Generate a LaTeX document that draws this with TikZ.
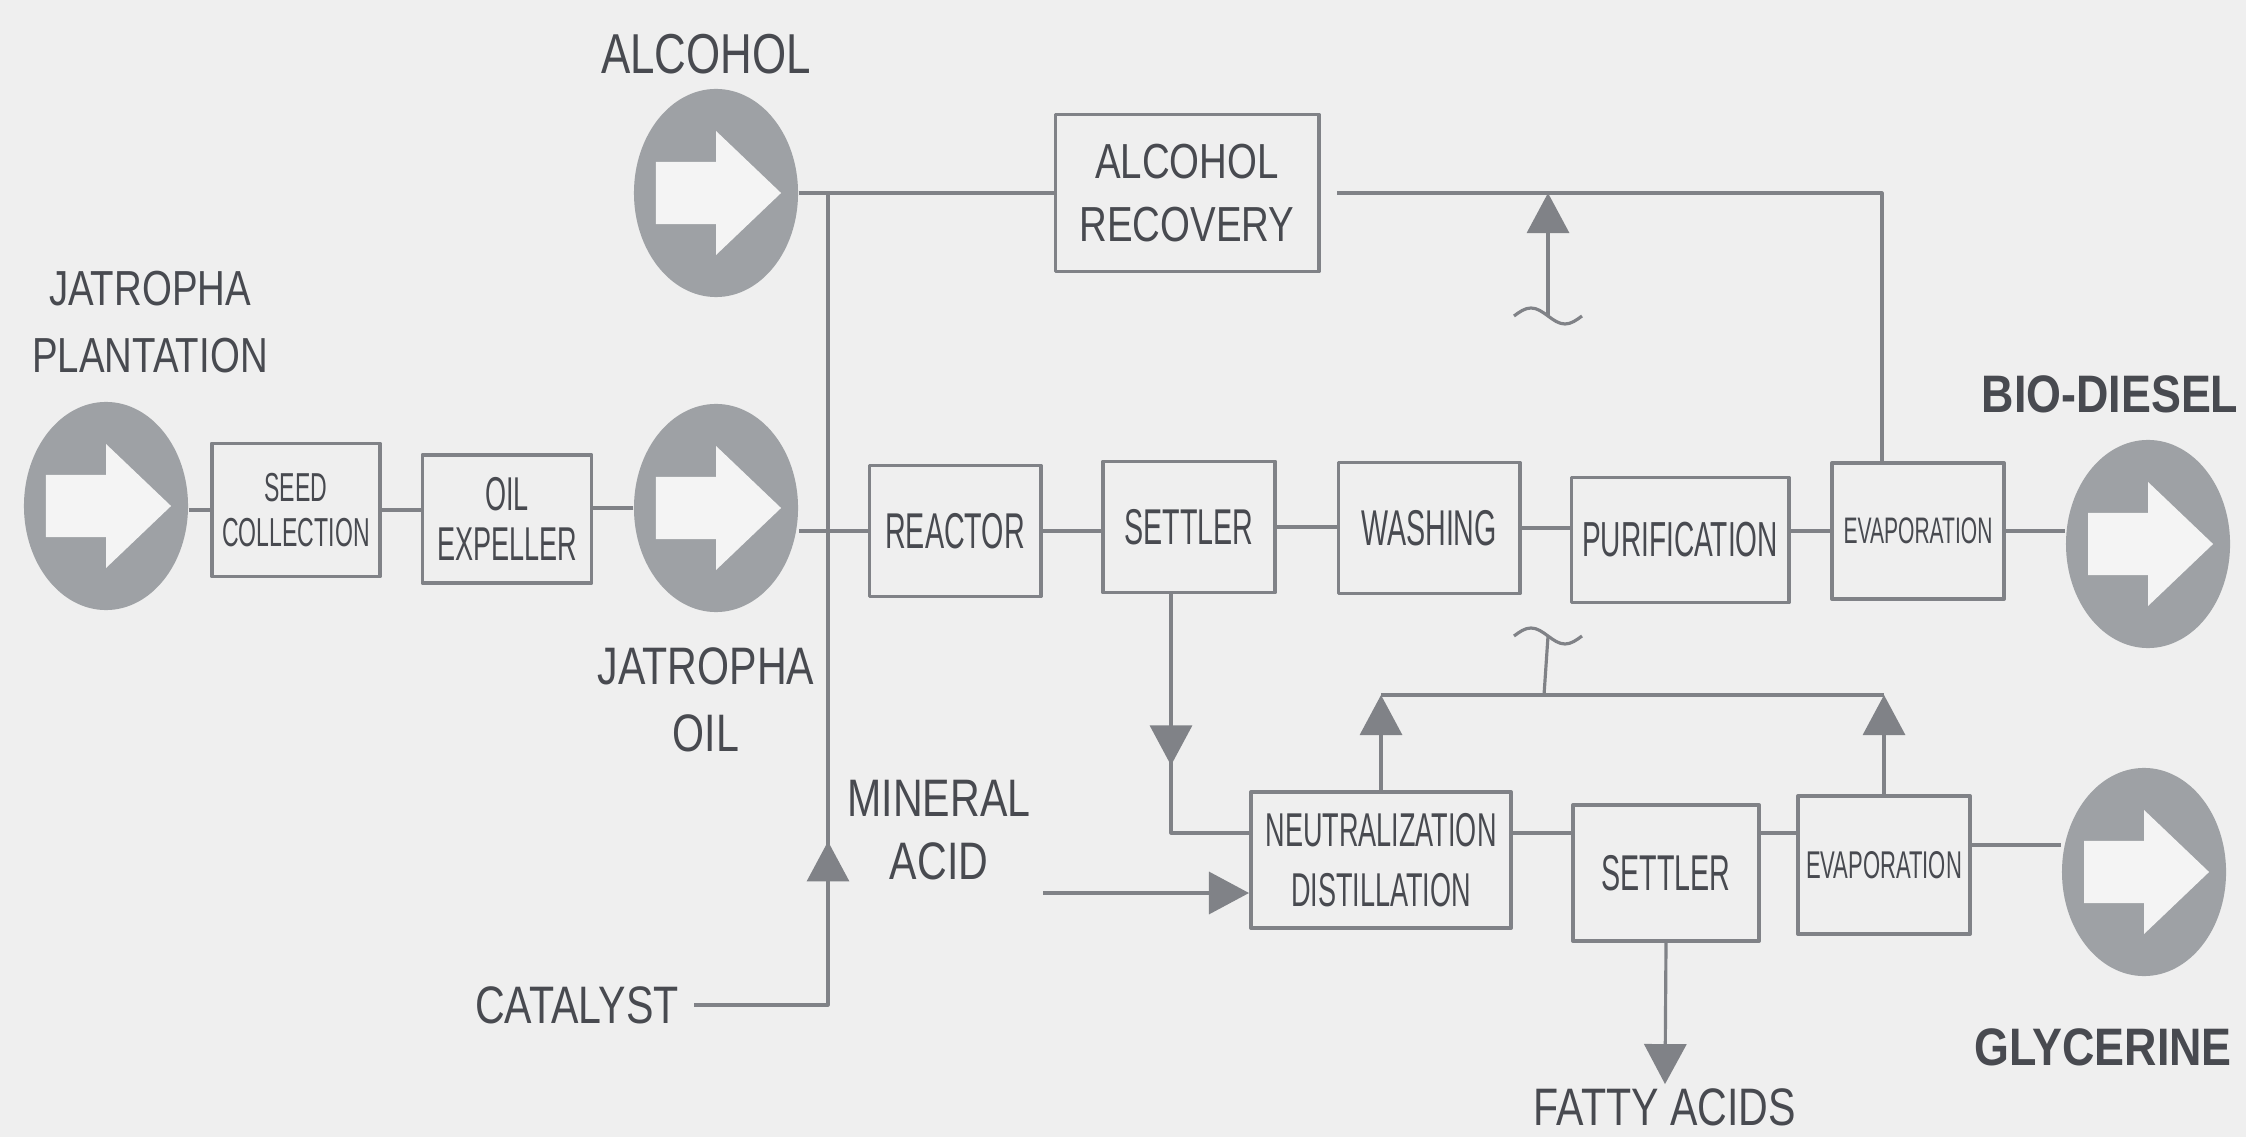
\documentclass[tikz,border=0pt]{standalone}
\usepackage{fontspec}
\setmainfont{Liberation Sans}
\newfontfamily\lblfont[FakeStretch=0.78]{Liberation Sans}
\newfontfamily\boxfont[FakeStretch=0.57]{Liberation Sans}
\newfontfamily\outfont[FakeStretch=0.85]{Liberation Sans}
\usetikzlibrary{arrows.meta,shapes.geometric,decorations.markings}

\definecolor{paper}{RGB}{239,239,239}
\definecolor{inkgray}{RGB}{72,74,80}
\definecolor{linegray}{RGB}{128,130,135}
\definecolor{circgray}{RGB}{158,161,165}
\definecolor{arrowwhite}{RGB}{244,244,244}

\tikzset{flow/.tip={Triangle[length=0.40cm,width=0.42cm]}}

\begin{document}
\begin{tikzpicture}[
        x=0.01cm, y=-0.01cm,
        line join=round,
        % 流程框
        procbox/.style={draw=linegray, line width=1.1pt, inner sep=0pt, align=center,
            text=inkgray, font=\boxfont\fontsize{14.3}{17}\selectfont,
            minimum width=1.72cm, minimum height=1.31cm},
        % 灰色圆形进出口（内含白色箭头）
        inlet/.style={ellipse, fill=circgray, inner sep=0pt,
            minimum width=1.64cm, minimum height=2.08cm,
            path picture={
                \fill[arrowwhite] ([shift={(-0.6cm,0.31cm)}]path picture bounding box.center)
                    -- ++(0.6cm,0) -- ++(0,0.31cm) -- ++(0.65cm,-0.62cm)
                    -- ++(-0.65cm,-0.62cm) -- ++(0,0.31cm) -- ++(-0.6cm,0) -- cycle;
            }},
        lbl/.style={text=inkgray, align=center, inner sep=2pt,
            font=\lblfont\fontsize{15}{19}\selectfont},
        outlbl/.style={text=inkgray, inner sep=2pt,
            font=\outfont\bfseries\fontsize{15}{18}\selectfont},
        flowline/.style={draw=linegray, line width=0.9pt},
        midflow/.style={postaction={decorate},
            decoration={markings, mark=at position #1 with {\arrow{flow}}}},
    ]

    % ---- 底色 ----
    \fill[paper] (0,0) rectangle (2246,1137);
    \useasboundingbox (0,0) rectangle (2246,1137);

    % ---- 上排：种植 -> 油 ----
    \node[inlet] (plant) at (106,506) {};
    \node[procbox, minimum width=1.68cm, minimum height=1.33cm,
        font=\boxfont\fontsize{11.5}{13}\selectfont] (seed) at (296,510) {SEED\\COLLECTION};
    \node[procbox, minimum width=1.69cm, minimum height=1.28cm,
        font=\boxfont\fontsize{13.5}{14}\selectfont] (expel) at (507,519) {OIL\\EXPELLER};
    \node[inlet] (oilc) at (716,508) {};
    \node[inlet] (alcin) at (716,193) {};
    \node[procbox, minimum width=2.63cm, minimum height=1.57cm,
        font=\lblfont\fontsize{14}{18}\selectfont] (recov) at (1187,193) {ALCOHOL\\RECOVERY};

    % ---- 主反应线 ----
    \node[procbox, minimum width=1.71cm] (reactor) at (955,531) {REACTOR};
    \node[procbox] (settle) at (1189,527) {SETTLER};
    \node[procbox, minimum width=1.81cm] (wash) at (1429,528) {WASHING};
    \node[procbox, minimum width=2.17cm, minimum height=1.25cm,
        font=\boxfont\fontsize{14}{17}\selectfont] (purif) at (1680,540) {PURIFICATION};
    \node[procbox, minimum height=1.36cm,
        font=\boxfont\fontsize{10.5}{12}\selectfont] (evap) at (1918,531) {EVAPORATION};
    \node[inlet] (biod) at (2148,544) {};

    % ---- 甘油线 ----
    \node[procbox, minimum width=2.60cm, minimum height=1.36cm,
        font=\boxfont\fontsize{13.5}{17}\selectfont] (neutr) at (1381,860) {NEUTRALIZATION\\DISTILLATION};
    \node[procbox, minimum width=1.86cm, minimum height=1.36cm] (settle2) at (1666,873) {SETTLER};
    \node[procbox, minimum height=1.38cm,
        font=\boxfont\fontsize{11}{12}\selectfont] (evap2) at (1884,865) {EVAPORATION};
    \node[inlet] (glyc) at (2144,872) {};

    % 标签
    \node[lbl, font=\lblfont\fontsize{14}{19}\selectfont] (plantlbl) at (150,322) {JATROPHA\\PLANTATION};
    \node[lbl] (oillbl) at (706,700) {JATROPHA\\OIL};
    \node[lbl, font=\lblfont\fontsize{16}{19}\selectfont] (alclbl) at (706,54) {ALCOHOL};
    \node[lbl, font=\lblfont\fontsize{15}{18}\selectfont] (acidlbl) at (939,830) {MINERAL\\ACID};
    \node[lbl] (catal) at (577,1005) {CATALYST};
    \node[lbl, inner sep=1pt] (fatty) at (1665,1107) {FATTY ACIDS};
    \node[outlbl] (biolbl) at (2110,394) {BIO-DIESEL};
    \node[outlbl] (glylbl) at (2103,1047) {GLYCERINE};

    % 辅助点
    \coordinate (jn) at (828,193);
    \coordinate (rcorner) at (1882,193);
    \coordinate (wave1) at (1548,316);
    \coordinate (loopmid) at (1544,695);
    \coordinate (wave2) at (1548,636);
    \coordinate (lowrow) at (0,833);
    \coordinate (glyrow) at (0,845);
    \coordinate (acidin) at (1043,893);

    % ---- 连线 ----
    \draw[flowline] (seed.west) -- (seed.west -| plant.east);
    \draw[flowline] (seed.east) -- (seed.east -| expel.west);
    \draw[flowline] (oilc.west) -- (oilc.west -| expel.east);
    \draw[flowline] (reactor.west) -- (reactor.west -| oilc.east);
    \draw[flowline] (reactor.east) -- (reactor.east -| settle.west);
    \draw[flowline] (settle.east) -- (settle.east -| wash.west);
    \draw[flowline] (wash.east) -- (wash.east -| purif.west);
    \draw[flowline] (evap.west) -- (evap.west -| purif.east);
    \draw[flowline] (evap.east) -- (evap.east -| biod.west);

    \draw[flowline] (neutr.east |- lowrow) -- (settle2.west |- lowrow);
    \draw[flowline] (settle2.east |- lowrow) -- (evap2.west |- lowrow);
    \draw[flowline] (evap2.east |- glyrow) -- (glyc.west |- glyrow);

    % 醇回收
    \draw[flowline] (alcin.east) -- (recov.west);
    \draw[flowline, shorten >=0.16cm] (evap.north -| rcorner) -- (rcorner) -- (recov.east);
    \draw[flowline, -{flow}] (wave1) -- (wave1 |- rcorner);
    \draw[flowline] ([xshift=-0.34cm]wave1) sin ++(17,-8) cos ++(17,8) sin ++(17,8) cos ++(17,-8);

    % 催化剂
    \draw[flowline, midflow=0.32, shorten <=0.08cm] (catal.east) -| (jn);

    % 沉降 -> 中和
    \draw[flowline, midflow=0.54] ([xshift=-0.18cm]settle.south) |- (neutr.west |- lowrow);
    \draw[flowline, -{flow}] (acidin) -- (neutr.west |- acidin);

    % 回流
    \draw[flowline, -{flow}] (neutr.north) -- (neutr.north |- loopmid);
    \draw[flowline, -{flow}] (evap2.north) -- (evap2.north |- loopmid);
    \draw[flowline] (neutr.north |- loopmid) -- (evap2.north |- loopmid);
    \draw[flowline] (loopmid) -- (wave2);
    \draw[flowline] ([xshift=-0.34cm]wave2) sin ++(17,-8) cos ++(17,8) sin ++(17,8) cos ++(17,-8);

    \draw[flowline, -{flow}] (settle2.south) -- (fatty.north);

\end{tikzpicture}
\end{document}
